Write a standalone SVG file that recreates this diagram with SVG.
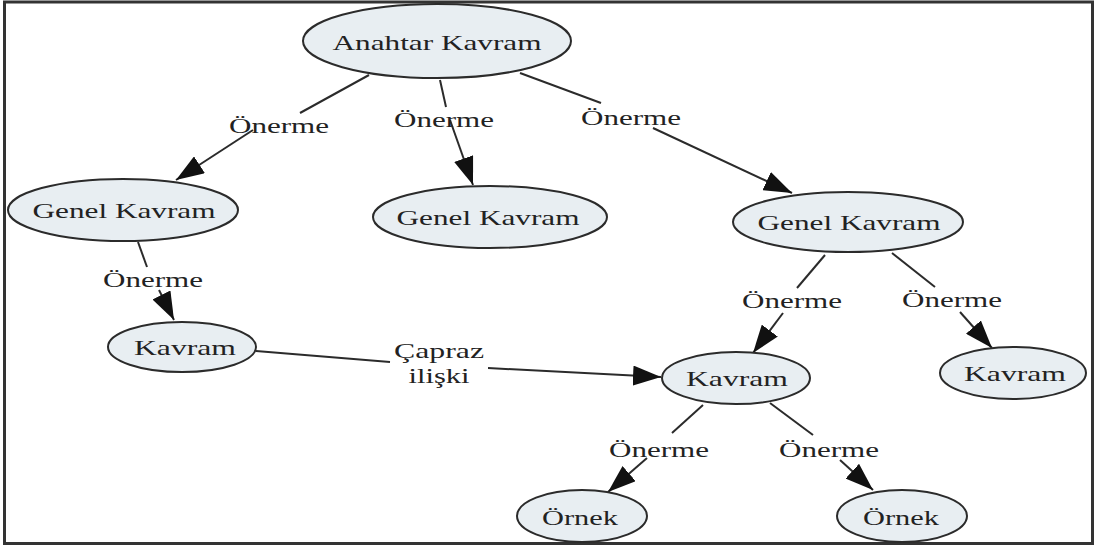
<svg xmlns="http://www.w3.org/2000/svg" width="1097" height="546" viewBox="0 0 1097 546">
<style>
.node ellipse{fill:#e8eef2;stroke:#2b2b2b;stroke-width:2}
.t{font-size:22px;fill:#222;text-anchor:middle}
.edges line{stroke:#2b2b2b;stroke-width:2;fill:none}
</style>
<defs>
<marker id="arr" markerUnits="userSpaceOnUse" markerWidth="28" markerHeight="20" refX="28" refY="10" orient="auto" viewBox="0 0 28 20">
<path d="M0,0 L28,10 L0,20 z" fill="#111"/>
</marker>
</defs>
<rect x="4.5" y="2" width="1088" height="541.5" fill="#fff" stroke="#333" stroke-width="3"/>
<g class="edges">
<line x1="369" y1="75" x2="300" y2="113"/>
<line x1="253" y1="130" x2="176" y2="180" marker-end="url(#arr)"/>
<line x1="440" y1="80" x2="446" y2="107"/>
<line x1="450" y1="120" x2="473" y2="185" marker-end="url(#arr)"/>
<line x1="520" y1="73" x2="601" y2="103"/>
<line x1="653" y1="128" x2="792" y2="193" marker-end="url(#arr)"/>
<line x1="138" y1="242" x2="147" y2="267"/>
<line x1="159" y1="290" x2="174" y2="320" marker-end="url(#arr)"/>
<line x1="256" y1="351" x2="390" y2="362"/>
<line x1="488" y1="368" x2="661" y2="377" marker-end="url(#arr)"/>
<line x1="825" y1="255" x2="797" y2="288"/>
<line x1="783" y1="313" x2="753" y2="353" marker-end="url(#arr)"/>
<line x1="892" y1="253" x2="935" y2="287"/>
<line x1="960" y1="312" x2="992" y2="348" marker-end="url(#arr)"/>
<line x1="703" y1="405" x2="672" y2="433"/>
<line x1="647" y1="458" x2="608" y2="492" marker-end="url(#arr)"/>
<line x1="770" y1="403" x2="813" y2="435"/>
<line x1="840" y1="460" x2="873" y2="490" marker-end="url(#arr)"/>
<g font-family="Liberation Serif, DejaVu Serif, serif">
<text class="t" x="279" y="133" textLength="100" lengthAdjust="spacingAndGlyphs">Önerme</text>
<text class="t" x="444" y="127" textLength="100" lengthAdjust="spacingAndGlyphs">Önerme</text>
<text class="t" x="631" y="125" textLength="100" lengthAdjust="spacingAndGlyphs">Önerme</text>
<text class="t" x="153" y="287" textLength="100" lengthAdjust="spacingAndGlyphs">Önerme</text>
<text class="t" x="792" y="308" textLength="100" lengthAdjust="spacingAndGlyphs">Önerme</text>
<text class="t" x="952" y="307" textLength="100" lengthAdjust="spacingAndGlyphs">Önerme</text>
<text class="t" x="659" y="457" textLength="100" lengthAdjust="spacingAndGlyphs">Önerme</text>
<text class="t" x="829" y="457" textLength="100" lengthAdjust="spacingAndGlyphs">Önerme</text>
<text class="t" x="439" y="358" textLength="90" lengthAdjust="spacingAndGlyphs">Çapraz</text>
<text class="t" x="439" y="383" textLength="61" lengthAdjust="spacingAndGlyphs">ilişki</text>
</g>
</g>
<g font-family="Liberation Serif, DejaVu Serif, serif">
<g id="n-anahtar" class="node"><ellipse cx="437" cy="41" rx="134" ry="37"/><text class="t" x="437" y="50" textLength="209" lengthAdjust="spacingAndGlyphs">Anahtar Kavram</text></g>
<g id="n-genel1" class="node"><ellipse cx="123" cy="210" rx="115" ry="31"/><text class="t" x="124" y="218" textLength="183" lengthAdjust="spacingAndGlyphs">Genel Kavram</text></g>
<g id="n-genel2" class="node"><ellipse cx="490" cy="217" rx="117" ry="31"/><text class="t" x="488" y="225" textLength="183" lengthAdjust="spacingAndGlyphs">Genel Kavram</text></g>
<g id="n-genel3" class="node"><ellipse cx="848" cy="222" rx="115" ry="30"/><text class="t" x="849" y="230" textLength="183" lengthAdjust="spacingAndGlyphs">Genel Kavram</text></g>
<g id="n-kavram1" class="node"><ellipse cx="182" cy="347" rx="74" ry="25"/><text class="t" x="185" y="355" textLength="102" lengthAdjust="spacingAndGlyphs">Kavram</text></g>
<g id="n-kavram2" class="node"><ellipse cx="736" cy="378" rx="74" ry="26"/><text class="t" x="737" y="386" textLength="102" lengthAdjust="spacingAndGlyphs">Kavram</text></g>
<g id="n-kavram3" class="node"><ellipse cx="1013" cy="373" rx="73" ry="26"/><text class="t" x="1015" y="381" textLength="102" lengthAdjust="spacingAndGlyphs">Kavram</text></g>
<g id="n-ornek1" class="node"><ellipse cx="582" cy="516" rx="65" ry="26"/><text class="t" x="580" y="525" textLength="76" lengthAdjust="spacingAndGlyphs">Örnek</text></g>
<g id="n-ornek2" class="node"><ellipse cx="902" cy="516" rx="65" ry="26"/><text class="t" x="901" y="525" textLength="76" lengthAdjust="spacingAndGlyphs">Örnek</text></g>
</g>
</svg>
